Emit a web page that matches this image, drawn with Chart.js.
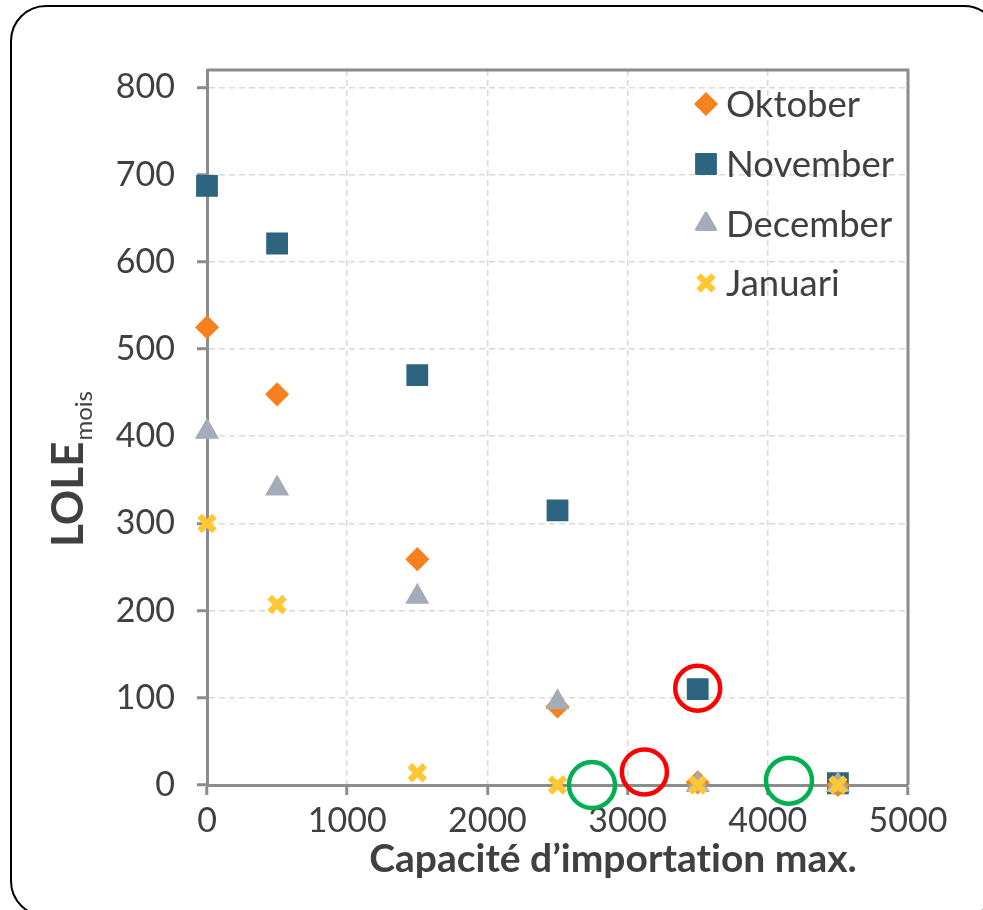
<!DOCTYPE html>
<html>
<head>
<meta charset="utf-8">
<script src="https://cdn.jsdelivr.net/npm/chart.js@4.4.1/dist/chart.umd.min.js"></script>
<style>
  html, body { margin: 0; padding: 0; background: #ffffff; overflow: hidden; }
  #wrap { position: relative; width: 983px; height: 910px; overflow: hidden; }
  #frame { position: absolute; left: 10px; top: 5px; width: 990px; height: 912px;
           border: 2.5px solid #000; border-radius: 36px; box-sizing: border-box; }
  canvas { position: absolute; left: 0; top: 0; }
</style>
</head>
<body>
<div id="wrap">
  <div id="frame"></div>
  <canvas id="c" width="983" height="910"></canvas>
</div>
<script>
// ---- data ----
const capacities = [0, 500, 1500, 2500, 3500, 4500];
const oktober  = [525, 448, 259, 90, 3, 0];
const november = [687, 621, 470, 315, 110, 2];
const december = [405, 340, 216, 95, 0, 0];
const januari  = [300, 207, 14, 0, 0, 0];
const seriesNames = ['Oktober', 'November', 'December', 'Januari'];
const xTickValues = [0, 1000, 2000, 3000, 4000, 5000];
const yTickValues = [0, 100, 200, 300, 400, 500, 600, 700, 800];
// highlight circles (annotations)
const redCircles = [{x: 3500, y: 111}, {x: 3120, y: 15}];
const greenCircles = [{x: 2746, y: 0}, {x: 4151, y: 5}];
const xTitle = 'Capacité d\u2019importat\u200Cion max.';
const yTitleMain = 'LOLE';
const yTitleSub = 'mois';

const TEXT = '#404040';
const AXIS = '#8C8C8C';
const TICKFONT = 'Lato, sans-serif';

function pts(arr) { return capacities.map((x, i) => ({x: x, y: arr[i]})); }

const styles = {
  Oktober:  {pointStyle: 'rectRot', radius: 11, bg: '#F7811E', bw: 1.5, order: 2},
  November: {pointStyle: 'rect', radius: 14, bg: '#2D6580', bw: 2, order: 3},
  December: {pointStyle: 'triangle', radius: 11, bg: '#A3ADB9', bw: 3, order: 1},
  Januari:  {pointStyle: 'crossRot', radius: 10.5, bg: '#FFC733', bw: 6.5, order: 0}
};
const seriesData = [oktober, november, december, januari];

const datasets = seriesNames.map((n, i) => {
  const s = styles[n];
  return {
    label: n, data: pts(seriesData[i]), order: s.order,
    pointStyle: s.pointStyle, pointRadius: s.radius, pointHoverRadius: s.radius,
    backgroundColor: s.bg, borderColor: s.bg, pointBorderWidth: s.bw, borderWidth: s.bw,
    showLine: false, clip: false
  };
});
datasets.push({label: '_red', data: redCircles, order: -1, pointStyle: 'circle', pointRadius: 22.5,
  backgroundColor: 'rgba(0,0,0,0)', borderColor: '#FF0000', pointBorderWidth: 4.5, showLine: false, clip: false});
datasets.push({label: '_green', data: greenCircles, order: -1, pointStyle: 'circle', pointRadius: 23,
  backgroundColor: 'rgba(0,0,0,0)', borderColor: '#00B050', pointBorderWidth: 4.5, showLine: false, clip: false});

const decorPlugin = {
  id: 'decor',
  beforeDatasetsDraw(chart) {
    const {ctx, chartArea: a} = chart;
    ctx.save();
    ctx.strokeStyle = AXIS; ctx.lineWidth = 3;
    ctx.beginPath();
    ctx.moveTo(a.left, a.top); ctx.lineTo(a.right, a.top); ctx.lineTo(a.right, a.bottom);
    ctx.stroke();
    ctx.restore();
  },
  afterDraw(chart) {
    const {ctx} = chart;
    ctx.save();
    // legend
    const lx = 706, ly = [104, 164, 224, 283];
    seriesNames.forEach((n, i) => {
      const s = styles[n];
      ctx.save();
      ctx.fillStyle = s.bg; ctx.strokeStyle = s.bg; ctx.lineWidth = s.bw; ctx.lineJoin = 'round';
      Chart.helpers.drawPoint(ctx, {pointStyle: s.pointStyle, radius: s.radius, rotation: 0, borderWidth: s.bw}, lx, ly[i]);
      ctx.restore();
      ctx.fillStyle = TEXT; ctx.font = '36.5px Lato'; ctx.textBaseline = 'middle'; ctx.textAlign = 'left';
      ctx.fillText(n, 726, ly[i] + 1);
    });
    // x title
    ctx.fillStyle = TEXT; ctx.font = 'bold 39px Lato'; ctx.textAlign = 'center'; ctx.textBaseline = 'alphabetic';
    ctx.fillText(xTitle, 613, 872);
    // y title
    ctx.translate(83, 547); ctx.rotate(-Math.PI / 2);
    ctx.font = 'bold 44px Lato'; ctx.textAlign = 'left';
    ctx.fillText(yTitleMain, 0, 0);
    const w = ctx.measureText(yTitleMain).width;
    ctx.font = '24px Lato';
    ctx.fillText(yTitleSub, w + 1, 9);
    ctx.restore();
  }
};

new Chart(document.getElementById('c'), {
  type: 'scatter',
  data: {datasets: datasets},
  options: {
    responsive: false, animation: false,
    layout: {padding: {top: 70, right: 75, bottom: 0, left: 0}},
    plugins: {legend: {display: false}, tooltip: {enabled: false}},
    elements: {point: {borderJoinStyle: 'round'}},
    scales: {
      x: {
        type: 'linear', min: 0, max: 5000,
        afterFit(s) { s.height = 125; },
        afterBuildTicks(s) { s.ticks = xTickValues.map(v => ({value: v})); },
        ticks: {color: TEXT, font: {family: TICKFONT, size: 34}, padding: 6, maxRotation: 0,
                callback: v => String(v)},
        grid: {color: '#D9D9D9', lineWidth: 1.5, tickColor: AXIS, tickLength: 10, tickWidth: 3},
        border: {color: AXIS, width: 3, dash: [6, 4]}
      },
      y: {
        type: 'linear', min: 0, max: 820,
        afterFit(s) { s.width = 207; },
        afterBuildTicks(s) { s.ticks = yTickValues.map(v => ({value: v})); },
        ticks: {color: TEXT, font: {family: TICKFONT, size: 34}, padding: 22,
                callback: v => String(v)},
        grid: {color: '#D9D9D9', lineWidth: 1.5, tickColor: AXIS, tickLength: 10, tickWidth: 3},
        border: {color: AXIS, width: 3, dash: [6, 4]}
      }
    }
  },
  plugins: [decorPlugin]
});
</script>
</body>
</html>
